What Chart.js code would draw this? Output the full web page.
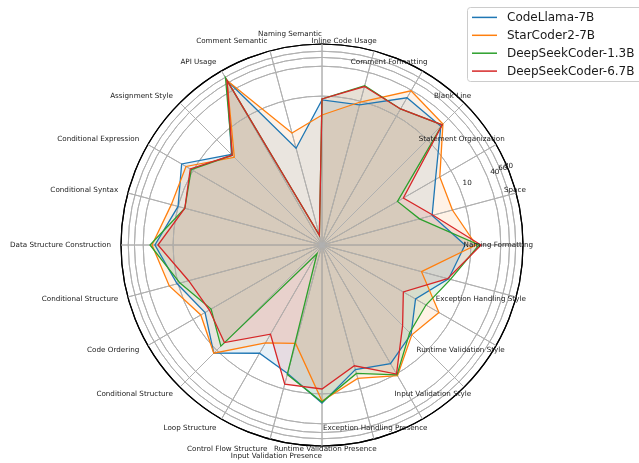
<!DOCTYPE html>
<html>
<head>
<meta charset="utf-8">
<script src="https://cdn.jsdelivr.net/npm/chart.js@4/dist/chart.umd.min.js"></script>
<style>
  html, body { margin: 0; padding: 0; background: #ffffff; }
  #wrap { width: 639px; height: 463px; }
</style>
</head>
<body>
<div id="wrap"><canvas id="c" width="639" height="463"></canvas></div>
<script>
// Categories, counter-clockwise starting from the 3 o'clock position
const categories = [
  'Naming Formatting', 'Space', 'Statement Organization', 'Blank Line',
  'Comment Formatting', 'Inline Code Usage', 'Naming Semantic', 'Comment Semantic',
  'API Usage', 'Assignment Style', 'Conditional Expression', 'Conditional Syntax',
  'Data Structure Construction', 'Conditional Structure', 'Code Ordering', 'Conditional Structure',
  'Loop Structure', 'Control Flow Structure', 'Input Validation Presence', 'Runtime Validation Presence',
  'Exception Handling Presence', 'Input Validation Style', 'Runtime Validation Style', 'Exception Handling Style'
];

const codeLlama7B = [7.6, 1.98, 4.36, 24.3, 26.6, 8.35, 8.35, 1.04, 67.3, 3.8, 18.4, 10.05,
                     23.2, 10.5, 5.25, 12.1, 3.3, 4.78, 15.3, 3.97, 5.76, 3.46, 1.5, 4.36];
const starCoder2_7B = [12.7, 5.25, 5.5, 27.9, 38.6, 9.6, 4.16, 2.17, 67.3, 3.15, 14.6, 13.9,
                       26.6, 15.3, 6.6, 12.1, 1.89, 1.13, 13.9, 6.04, 11.0, 3.62, 5.25, 1.19];
const deepSeekCoder1_3B = [14.6, 1.08, 0.57, 26.6, 14.6, 21.1, 8.75, 0.016, 77.4, 3.62, 11.0, 7.26,
                           29.2, 9.16, 3.8, 7.6, 0.016, 5.01, 14.6, 4.78, 10.5, 3.15, 2.62, 4.78];
const deepSeekCoder6_7B = [16.0, 2.08, 0.78, 26.6, 14.6, 20.2, 8.75, 0.016, 67.3, 3.62, 11.6, 7.26,
                           20.2, 6.04, 4.16, 6.04, 1.19, 7.96, 7.96, 3.3, 10.05, 1.98, 0.78, 4.16];

const seriesNames = ['CodeLlama-7B', 'StarCoder2-7B', 'DeepSeekCoder-1.3B', 'DeepSeekCoder-6.7B'];
const seriesValues = [codeLlama7B, starCoder2_7B, deepSeekCoder1_3B, deepSeekCoder6_7B];
const seriesColors = ['#1f77b4', '#ff7f0e', '#2ca02c', '#d62728'];

// Radial axis (logarithmic): labelled rings and the outer limits
const radialTicks = [10, 40, 60, 80];
const radialMin = 0.01;
const radialMax = 112;

const toLog = v => Math.log10(Math.max(v, radialMin));
const LOG_MIN = toLog(radialMin);
const LOG_MAX = toLog(radialMax);

// Chart.js walks clockwise; reorder so categories run counter-clockwise from the right
const N = categories.length;
const walk = [0];
for (let k = N - 1; k >= 1; k--) walk.push(k);

function withAlpha(hex, a) {
  const n = parseInt(hex.slice(1), 16);
  return `rgba(${(n >> 16) & 255}, ${(n >> 8) & 255}, ${n & 255}, ${a})`;
}

const FONT = '"DejaVu Sans", "Liberation Sans", sans-serif';

// Grid sits above the translucent fills but below the outlines
const gridOverFill = {
  id: 'gridOverFill',
  beforeDatasetsDraw(chart) {
    chart.scales.r.drawGrid();
  }
};

// Category names (right-aligned at each spoke) and the radial tick numbers
const axisText = {
  id: 'axisText',
  afterDraw(chart) {
    const s = chart.scales.r;
    const ctx = chart.ctx;
    ctx.save();
    ctx.fillStyle = '#1a1a1a';
    ctx.font = `7.2px ${FONT}`;
    ctx.textAlign = 'right';
    ctx.textBaseline = 'middle';
    chart.data.labels.forEach((lab, i) => {
      const p = s.getPointPosition(i, s.drawingArea + 10);
      ctx.fillText(lab, p.x, p.y);
    });
    ctx.textAlign = 'left';
    ctx.textBaseline = 'bottom';
    const a = 22.5 * Math.PI / 180;
    radialTicks.forEach(v => {
      const d = s.getDistanceFromCenterForValue(toLog(v));
      ctx.fillText(String(v), s.xCenter + d * Math.cos(a) + 3, s.yCenter - d * Math.sin(a) - 1);
    });
    ctx.restore();
  }
};

// Framed legend in the upper right corner
const legendBox = {
  id: 'legendBox',
  afterDraw(chart) {
    const ctx = chart.ctx;
    ctx.save();
    const x = 467.5, y = 7.5, w = 185, h = 74, r = 3;
    ctx.beginPath();
    ctx.moveTo(x + r, y);
    ctx.lineTo(x + w - r, y);
    ctx.arcTo(x + w, y, x + w, y + r, r);
    ctx.lineTo(x + w, y + h - r);
    ctx.arcTo(x + w, y + h, x + w - r, y + h, r);
    ctx.lineTo(x + r, y + h);
    ctx.arcTo(x, y + h, x, y + h - r, r);
    ctx.lineTo(x, y + r);
    ctx.arcTo(x, y, x + r, y, r);
    ctx.closePath();
    ctx.fillStyle = 'rgba(255,255,255,0.8)';
    ctx.fill();
    ctx.strokeStyle = '#cccccc';
    ctx.lineWidth = 1;
    ctx.stroke();
    ctx.font = `12px ${FONT}`;
    ctx.textAlign = 'left';
    ctx.textBaseline = 'middle';
    seriesNames.forEach((name, i) => {
      const yy = 17.4 + i * 17.9;
      ctx.strokeStyle = seriesColors[i];
      ctx.lineWidth = 1.5;
      ctx.beginPath();
      ctx.moveTo(472, yy);
      ctx.lineTo(497, yy);
      ctx.stroke();
      ctx.fillStyle = '#1a1a1a';
      ctx.fillText(name, 507, yy + 0.5);
    });
    ctx.restore();
  }
};

new Chart(document.getElementById('c'), {
  type: 'radar',
  data: {
    labels: walk.map(k => categories[k]),
    datasets: seriesNames.map((name, i) => ({
      label: name,
      data: walk.map(k => toLog(seriesValues[i][k])),
      borderColor: seriesColors[i],
      backgroundColor: withAlpha(seriesColors[i], 0.1),
      borderWidth: 1.3,
      pointRadius: 0,
      pointHoverRadius: 0,
      fill: 'start',
      order: seriesNames.length - i
    }))
  },
  options: {
    responsive: false,
    devicePixelRatio: 1,
    animation: false,
    layout: { padding: { left: 121, right: 116, top: 44, bottom: 17 } },
    plugins: {
      legend: { display: false },
      tooltip: { enabled: false },
      filler: { drawTime: 'beforeDatasetsDraw' }
    },
    elements: { line: { tension: 0 } },
    scales: {
      r: {
        min: LOG_MIN,
        max: LOG_MAX,
        startAngle: 90,
        afterBuildTicks(scale) {
          scale.ticks = [LOG_MIN, ...radialTicks.map(toLog), LOG_MAX].map(v => ({ value: v }));
        },
        afterFit(scale) {
          scale.xCenter = Math.round((scale.left + scale.right) / 2);
          scale.yCenter = Math.round((scale.top + scale.bottom) / 2);
          scale.drawingArea = Math.min(scale.right - scale.left, scale.bottom - scale.top) / 2;
        },
        ticks: { display: false },
        pointLabels: { display: false },
        angleLines: { color: '#b0b0b0', lineWidth: 1 },
        grid: {
          circular: true,
          color: c => (c.tick && c.tick.value >= LOG_MAX - 1e-9) ? '#000000'
                     : (c.tick && c.tick.value <= LOG_MIN + 1e-9) ? 'rgba(0,0,0,0)' : '#b0b0b0',
          lineWidth: c => (c.tick && c.tick.value >= LOG_MAX - 1e-9) ? 1.2 : 1
        }
      }
    }
  },
  plugins: [gridOverFill, axisText, legendBox]
});
</script>
</body>
</html>
